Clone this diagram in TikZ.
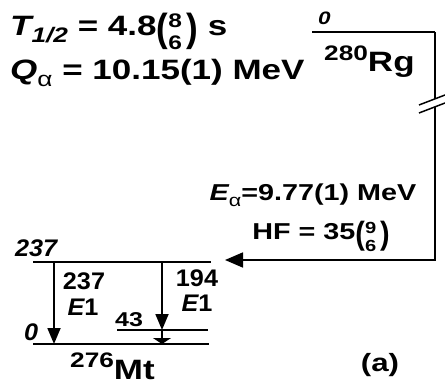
\documentclass[tikz,border=0pt]{standalone}
\usepackage{amsmath}
\usepackage{graphicx}
\usepackage{fontspec}
\setmainfont{Liberation Sans}[FakeStretch=1.25]
\newfontfamily\levelfont{Liberation Sans}[FakeStretch=1.05]
\usetikzlibrary{arrows.meta, calc}

% stacked asymmetric uncertainty in tall parentheses
\newcommand{\updn}[2]{\raisebox{-.2em}{\scalebox{1}[1.4]{(}}%
  \rlap{\raisebox{.3em}{\scalebox{.7}{#1}}}\raisebox{-.48em}{\scalebox{.7}{#2}}%
  \,\raisebox{-.2em}{\scalebox{1}[1.4]{)}}}
\newcommand{\subsc}[1]{\raisebox{-.22em}{\scalebox{.75}{#1}}}
\newcommand{\mass}[1]{\raisebox{.42em}{\scalebox{.75}{#1}}}

\begin{document}
\begin{tikzpicture}[x=1pt, y=-1pt,
  lvl/.style={line width=1.8pt},
  trans/.style={line width=1.8pt, -{Triangle[length=16pt,width=13pt]}},
  big/.style={font=\fontsize{28}{30}\selectfont\bfseries, inner sep=0pt},
  lab/.style={font=\levelfont\fontsize{24}{26}\selectfont\bfseries, inner sep=0pt},
  ilab/.style={font=\levelfont\fontsize{24}{26}\selectfont\bfseries\itshape, inner sep=0pt},
  txt/.style={font=\fontsize{23}{25}\selectfont\bfseries, inner sep=0pt}
]
\useasboundingbox (0,0) rectangle (445,385);

% half-life and Q value
\node[big, anchor=base west] (thalf) at (10,36)
  {{\itshape T}\subsc{\itshape 1/2} = 4.8\updn{8}{6} s};
\node[big, anchor=base west] (qval) at (10,80)
  {{\itshape Q}\subsc{\mdseries α} = 10.15(1) MeV};

% parent level
\coordinate (rgL) at (312,32);
\coordinate (rgR) at (435,32);
\coordinate (brkA) at (435,99);
\coordinate (brkB) at (435,107);
\coordinate (aCorner) at (435,260);
\coordinate (aTip) at (225,260);
\draw[lvl] (rgL) -- (rgR);
\node[font=\fontsize{18}{20}\selectfont\bfseries\itshape, inner sep=0pt,
      anchor=base west] (rgE) at (318,25) {0};
\node[big, anchor=base west] (rg) at (324,72) {\mass{280}Rg};

% alpha line with break
\draw[lvl] (rgR) -- (brkA);
\draw[line width=1.8pt, -{Triangle[length=18pt,width=15pt]}]
  (brkB) -- (aCorner) -- (aTip);
\draw[line width=1.5pt] ($(brkA)+(-16,6)$) -- ($(brkA)+(10,-4)$);
\draw[line width=1.5pt] ($(brkB)+(-16,6)$) -- ($(brkB)+(10,-4)$);
\node[txt, anchor=base] (ealpha) at (313,201)
  {{\itshape E}\subsc{\mdseries α}=9.77(1) MeV};
\node[txt, anchor=base] (hf) at (321,240) {HF = 35\updn{9}{6}};

% daughter levels
\coordinate (l237L) at (33,262);
\coordinate (l237R) at (211,262);
\coordinate (l43L) at (117,330);
\coordinate (l43R) at (208,330);
\coordinate (l0L) at (33,344);
\coordinate (l0R) at (209,344);
\draw[lvl] (l237L) -- (l237R);
\draw[lvl] (l43L) -- (l43R);
\draw[lvl] (l0L) -- (l0R);
\node[ilab, anchor=base west] (e237) at (15,257) {237};
\node[txt, anchor=base west, font=\fontsize{20}{22}\selectfont\bfseries]
  (e43) at (115,326) {43};
\node[ilab, anchor=base west] (e0) at (24,340) {0};

% gamma transitions
\coordinate (g1top) at (54,262);
\coordinate (g1bot) at (54,344);
\coordinate (g2top) at (162,262);
\coordinate (g2mid) at (162,330);
\coordinate (g2bot) at (162,344);
\draw[trans] (g1top) -- (g1bot);
\draw[trans] (g2top) -- (g2mid);
\draw[line width=1.5pt, -{Triangle[length=6pt,width=18pt]}] (g2mid) -- (g2bot);
\node[lab, anchor=base] (g1en) at (84,290) {237};
\node[lab, anchor=base] (g1m) at (83,315) {{\itshape E}1};
\node[lab, anchor=base] (g2en) at (197,287) {194};
\node[lab, anchor=base] (g2m) at (197,312) {{\itshape E}1};

\node[big, anchor=base west] (mt) at (70,379) {\mass{276}Mt};
\node[font=\fontsize{25}{27}\selectfont\bfseries, inner sep=0pt]
  (panel) at (380,365) {(a)};
\end{tikzpicture}
\end{document}
